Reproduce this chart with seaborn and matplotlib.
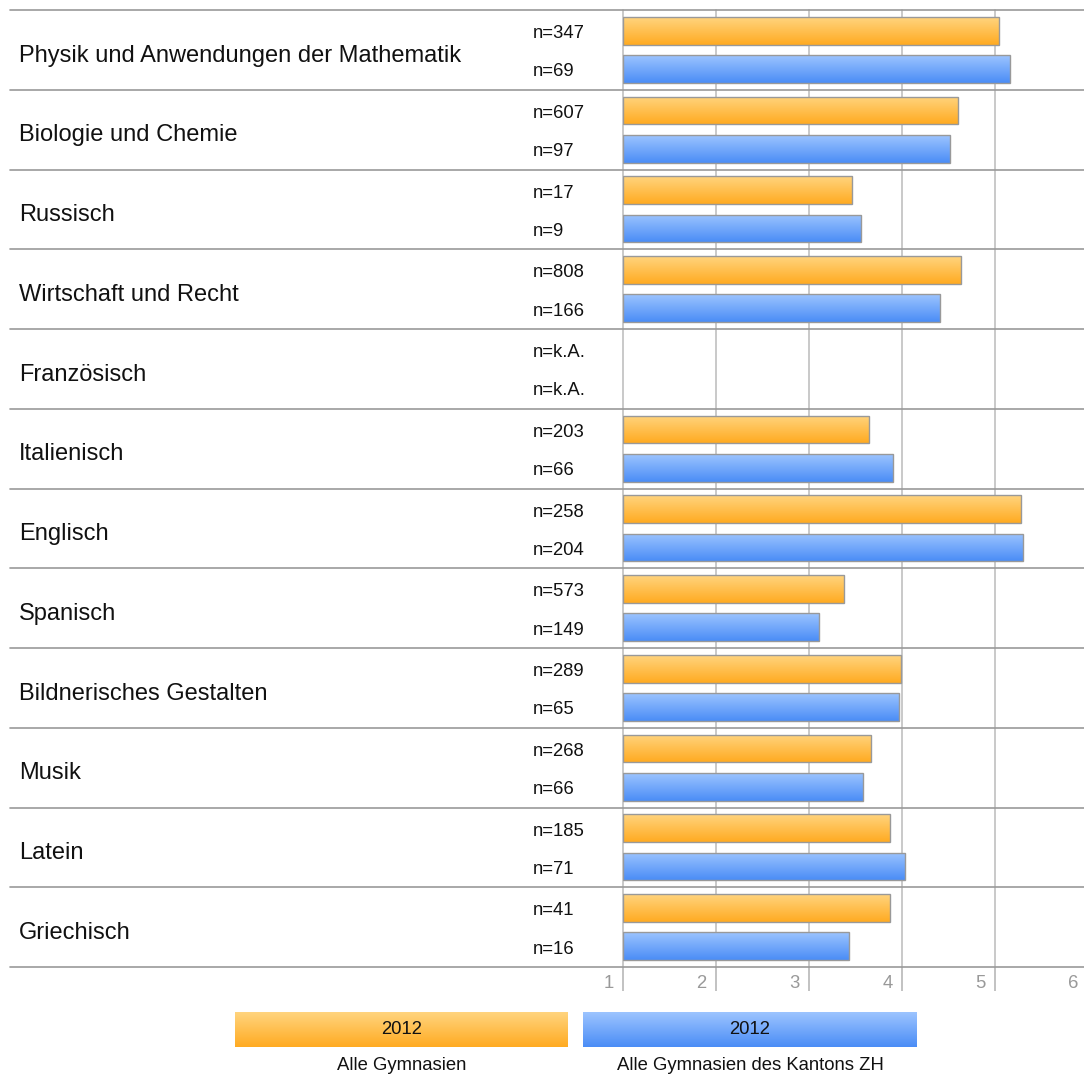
import numpy as np
import pandas as pd
import seaborn as sns
import matplotlib
matplotlib.use("Agg")
import matplotlib.pyplot as plt
from matplotlib.transforms import blended_transform_factory as blend

faecher = ["Physik und Anwendungen der Mathematik", "Biologie und Chemie", "Russisch",
           "Wirtschaft und Recht", "Französisch", "Italienisch", "Englisch", "Spanisch",
           "Bildnerisches Gestalten", "Musik", "Latein", "Griechisch"]
alle = [5.05, 4.61, 3.47, 4.64, np.nan, 3.65, 5.28, 3.38, 3.99, 3.67, 3.87, 3.87]
zh = [5.16, 4.52, 3.56, 4.41, np.nan, 3.91, 5.30, 3.11, 3.97, 3.58, 4.04, 3.43]
n_alle = ["347", "607", "17", "808", "k.A.", "203", "258", "573", "289", "268", "185", "41"]
n_zh = ["69", "97", "9", "166", "k.A.", "66", "204", "149", "65", "66", "71", "16"]
gruppen = ["Alle Gymnasien", "Alle Gymnasien des Kantons ZH"]
jahr = "2012"

rows = []
for i, f in enumerate(faecher):
    rows.append([f, gruppen[0], alle[i]])
    rows.append([f, gruppen[1], zh[i]])
df = pd.DataFrame(rows, columns=["Fach", "Gruppe", "Wert"])

sns.set_style("white")
plt.rcParams["font.family"] = ["Liberation Sans", "DejaVu Sans"]

W, H = 1084, 1077
fig = plt.figure(figsize=(W / 100, H / 100), dpi=100)
ax = fig.add_axes([622.7 / W, (H - 967) / H, (W - 622.7) / W, 957 / H])

orange = ["#ffd47e", "#ffab22"]
blau = ["#9cc4ff", "#4b8df6"]
sns.barplot(data=df, x="Wert", y="Fach", hue="Gruppe", order=faecher, hue_order=gruppen,
            palette=[orange[1], blau[1]], saturation=1, width=0.96, gap=0.27, orient="h",
            edgecolor="#999999", linewidth=1, legend=False, ax=ax)

xmax = 1 + (W - 622.7) / 93
ax.set_xlabel("")
ax.set_ylabel("")
ax.set_yticks([])
ax.set_xticks([1, 2, 3, 4, 5, 6])
ax.tick_params(axis="x", length=17, width=1.2, color="#b8b8b8", labelbottom=False, bottom=True)
ax.grid(axis="x", color="#c0c0c0", linewidth=1.2)
ax.set_axisbelow(True)
for s in ax.spines.values():
    s.set_visible(False)


def verlauf(c):
    a = np.array(matplotlib.colors.to_rgb(c[0]))
    b = np.array(matplotlib.colors.to_rgb(c[1]))
    t = np.linspace(0, 1, 50)[:, None]
    return (a * (1 - t) + b * t)[:, None, :]


# scale starts at 1: bars run from 1 to their value, with a gradient fill
orange_rgb = np.array(matplotlib.colors.to_rgb(orange[1]))
for p in list(ax.patches):
    w = p.get_width()
    if not np.isfinite(w) or w == 0:
        continue
    p.set_x(1)
    p.set_width(w - 1)
    fc = np.array(p.get_facecolor()[:3])
    col = orange if np.abs(fc - orange_rgb).sum() < 0.2 else blau
    y0, h = p.get_y(), p.get_height()
    im = ax.imshow(verlauf(col), extent=(1, w, y0 + h, y0), origin="upper",
                   aspect="auto", zorder=p.get_zorder() - 0.1, interpolation="bilinear")
    im.set_clip_path(p)
    p.set_facecolor("none")
ax.set_xlim(1, xmax)
ax.set_ylim(len(faecher) - 0.5, -0.5)
for gl in ax.get_xgridlines():
    gl.set_clip_on(False)

# row separators and labels
tr = blend(fig.transFigure, ax.transData)
for i in range(len(faecher) + 1):
    ax.plot([10 / W, 1], [i - 0.5, i - 0.5], transform=tr, color="#999999", lw=1.2, clip_on=False)
for i, f in enumerate(faecher):
    fig.text(19 / W, i + 0.04, f, transform=tr, fontsize=17, va="center_baseline", ha="left", color="#111111")
    fig.text(533 / W, i - 0.23, "n=" + n_alle[i], transform=tr, fontsize=13.3, va="center_baseline", color="#111111")
    fig.text(533 / W, i + 0.25, "n=" + n_zh[i], transform=tr, fontsize=13.3, va="center_baseline", color="#111111")

# x tick labels
tr2 = blend(ax.transData, fig.transFigure)
for v in range(1, 7):
    ax.text(v - 0.1, (H - 983) / H, str(v), transform=tr2, ha="right", va="center",
            fontsize=13.3, color="#999999", clip_on=False)

# legend
for x0, x1, col, lab in [(235, 568, orange, gruppen[0]), (583, 917, blau, gruppen[1])]:
    la = fig.add_axes([x0 / W, (H - 1047) / H, (x1 - x0) / W, 35 / H])
    la.imshow(verlauf(col), extent=(0, 1, 0, 1), aspect="auto", interpolation="bilinear")
    la.set_axis_off()
    la.text(0.5, 0.5, jahr, ha="center", va="center", fontsize=13.3, color="#111111", transform=la.transAxes)
    fig.text((x0 + x1) / 2 / W, (H - 1066) / H, lab, ha="center", va="center", fontsize=13.3, color="#111111")

fig.savefig("out.png", dpi=100)
